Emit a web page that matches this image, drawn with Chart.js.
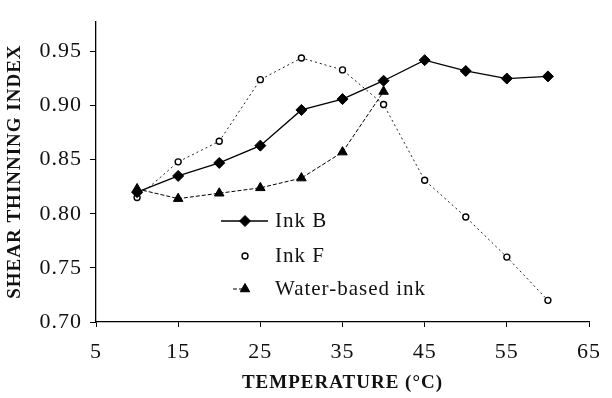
<!DOCTYPE html>
<html>
<head>
<meta charset="utf-8">
<script src="https://cdn.jsdelivr.net/npm/chart.js@4.4.0/dist/chart.umd.min.js"></script>
<style>
html, body { margin: 0; padding: 0; background: #fff; }
#wrap { width: 612px; height: 398px; }
</style>
</head>
<body>
<div id="wrap"><canvas id="chart" width="612" height="398"></canvas></div>
<script>
// values
const temperatures = [10, 15, 20, 25, 30, 35, 40, 45, 50, 55, 60];
const inkB = [0.820, 0.835, 0.847, 0.863, 0.896, 0.906, 0.923, 0.942, 0.932, 0.925, 0.927];
const inkF = [0.815, 0.848, 0.867, 0.924, 0.944, 0.933, 0.901, 0.831, 0.797, 0.760, 0.720];
const waterTemps = [10, 15, 20, 25, 30, 35, 40];
const waterInk = [0.823, 0.814, 0.819, 0.824, 0.833, 0.857, 0.913];
const xTicks = [5, 15, 25, 35, 45, 55, 65];
const yTicks = [0.70, 0.75, 0.80, 0.85, 0.90, 0.95];

const SERIF = "'Liberation Serif', 'Times New Roman', serif";
const INK = '#111';

function toPoints(xs, ys) {
    return xs.map((x, i) => ({ x: x, y: ys[i] }));
}

// the scanned figure has loosely spaced type
const letterSpacing = {
    id: 'letterSpacing',
    beforeInit(chart) { chart.ctx.letterSpacing = '1px'; },
    beforeDraw(chart) { chart.ctx.letterSpacing = '1px'; }
};

// legend sits inside the plot, drawn by hand like the original figure
const insideLegend = {
    id: 'insideLegend',
    afterDraw(chart) {
        const ctx = chart.ctx;
        const rows = [
            { ds: 0, y: 221, line: [221, 268] },
            { ds: 1, y: 256, line: null },
            { ds: 2, y: 289, line: [233, 246] }
        ];
        const markerX = 245;
        ctx.save();
        rows.forEach(r => {
            const ds = chart.data.datasets[r.ds];
            if (r.line) {
                ctx.beginPath();
                ctx.setLineDash(ds.borderDash || []);
                ctx.lineWidth = ds.borderWidth;
                ctx.strokeStyle = ds.borderColor;
                ctx.moveTo(r.line[0], r.y);
                ctx.lineTo(r.line[1], r.y);
                ctx.stroke();
            }
            ctx.setLineDash([]);
            ctx.fillStyle = ds.pointBackgroundColor;
            ctx.strokeStyle = ds.pointBorderColor;
            ctx.lineWidth = ds.pointBorderWidth;
            Chart.helpers.drawPoint(ctx, {
                pointStyle: ds.pointStyle,
                radius: ds.pointRadius,
                rotation: 0,
                borderWidth: ds.pointBorderWidth
            }, markerX, r.y);
            ctx.fillStyle = INK;
            ctx.font = '21px ' + SERIF;
            ctx.letterSpacing = '1px';
            ctx.textBaseline = 'middle';
            ctx.fillText(ds.label, 275, r.y);
        });
        ctx.restore();
    }
};

const ctx = document.getElementById('chart').getContext('2d');
new Chart(ctx, {
    type: 'line',
    data: {
        datasets: [
            {
                label: 'Ink B',
                data: toPoints(temperatures, inkB),
                borderColor: '#000',
                borderWidth: 1.3,
                pointStyle: 'rectRot',
                pointRadius: 5.5,
                pointBackgroundColor: '#000',
                pointBorderColor: '#000',
                pointBorderWidth: 1,
                tension: 0
            },
            {
                label: 'Ink F',
                data: toPoints(temperatures, inkF),
                borderColor: '#222',
                borderWidth: 1,
                borderDash: [2, 3],
                pointStyle: 'circle',
                pointRadius: 3,
                pointBackgroundColor: '#fff',
                pointBorderColor: '#000',
                pointBorderWidth: 1.4,
                tension: 0
            },
            {
                label: 'Water-based ink',
                data: toPoints(waterTemps, waterInk),
                borderColor: '#000',
                borderWidth: 1,
                borderDash: [4, 2],
                pointStyle: 'triangle',
                pointRadius: 5.5,
                pointBackgroundColor: '#000',
                pointBorderColor: '#000',
                pointBorderWidth: 1,
                tension: 0
            }
        ]
    },
    options: {
        responsive: false,
        animation: false,
        clip: false,
        layout: { padding: { top: 6, right: 13, left: 0, bottom: 0 } },
        plugins: {
            legend: { display: false },
            tooltip: { enabled: false }
        },
        scales: {
            x: {
                type: 'linear',
                min: 5,
                max: 65,
                afterBuildTicks: axis => { axis.ticks = xTicks.map(v => ({ value: v })); },
                afterFit: axis => { axis.height = 76; },
                grid: { display: true, drawOnChartArea: false, drawTicks: true, tickLength: 5, color: '#000' },
                border: { display: true, color: '#000', width: 1.3 },
                ticks: { color: INK, font: { family: SERIF, size: 22 }, padding: 12, maxRotation: 0 },
                title: {
                    display: true,
                    text: 'TEMPERATURE (°C)',
                    color: INK,
                    font: { family: SERIF, size: 19, weight: 'bold' },
                    padding: { top: 0, bottom: 4 }
                }
            },
            y: {
                type: 'linear',
                min: 0.70,
                max: 0.978,
                afterBuildTicks: axis => { axis.ticks = yTicks.map(v => ({ value: v })); },
                afterFit: axis => { axis.width = 96; },
                grid: { display: true, drawOnChartArea: false, drawTicks: true, tickLength: 6, color: '#000' },
                border: { display: true, color: '#000', width: 1.3 },
                ticks: {
                    color: INK,
                    font: { family: SERIF, size: 22 },
                    padding: 8,
                    callback: v => v.toFixed(2)
                },
                title: {
                    display: true,
                    text: 'SHEAR THINNING INDEX',
                    color: INK,
                    font: { family: SERIF, size: 19, weight: 'bold' },
                    padding: { top: 4, bottom: 4 }
                }
            }
        }
    },
    plugins: [letterSpacing, insideLegend]
});
</script>
</body>
</html>
